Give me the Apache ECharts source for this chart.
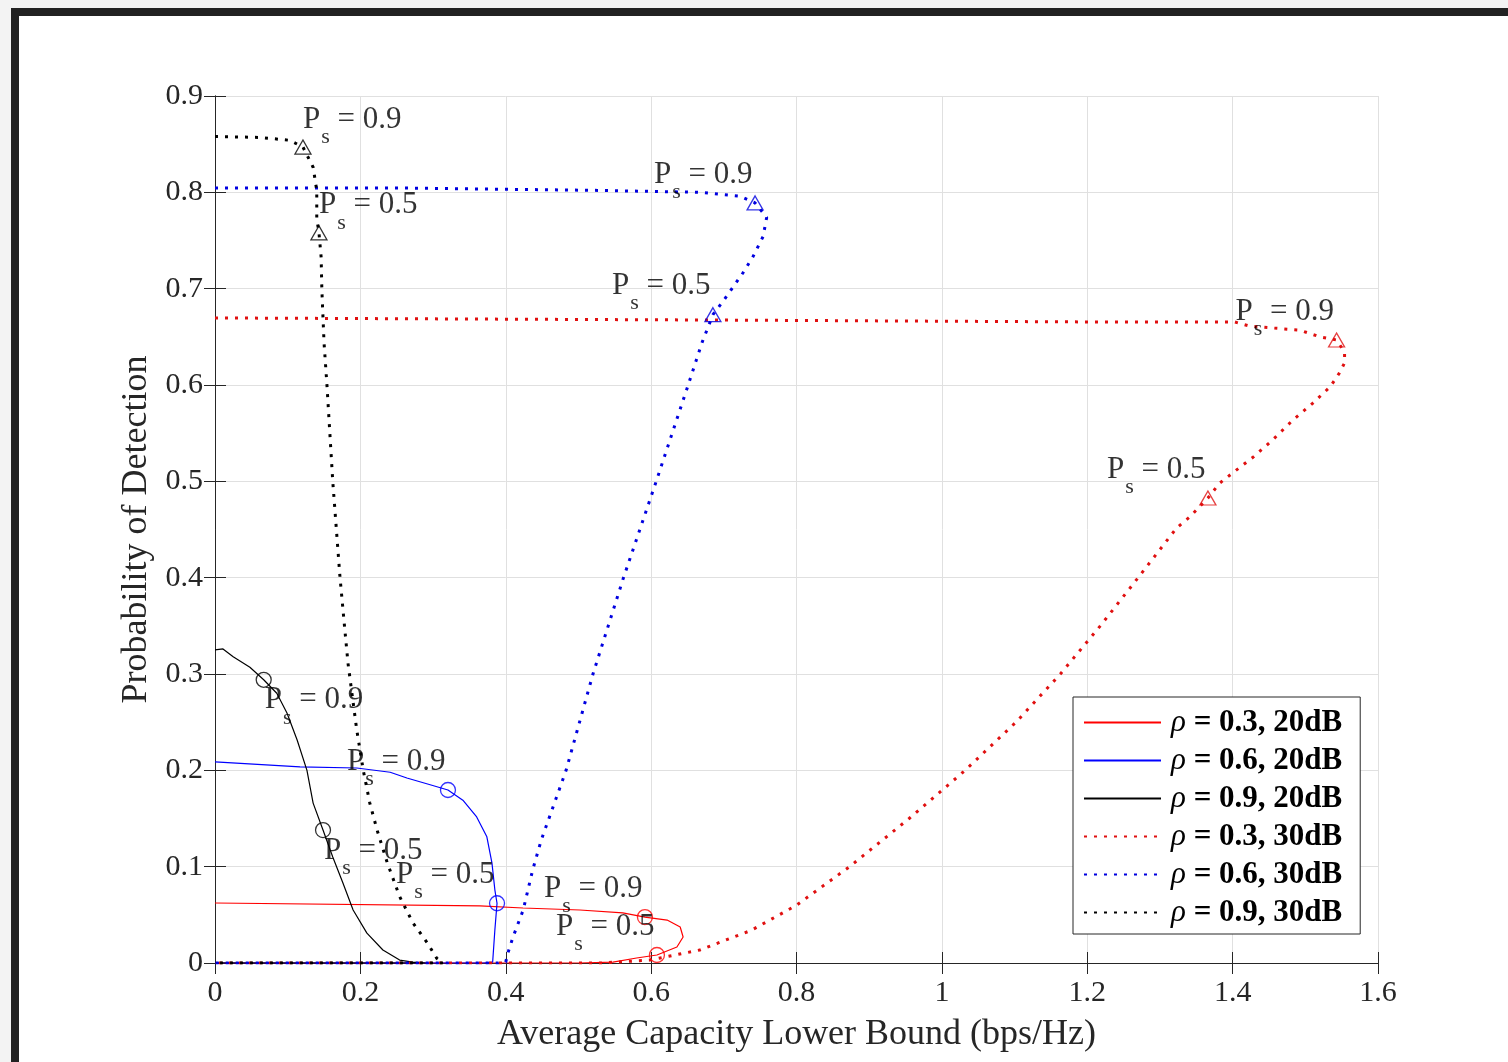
<!DOCTYPE html>
<html>
<head>
<meta charset="utf-8">
<script src="https://cdn.jsdelivr.net/npm/echarts@6/dist/echarts.min.js"></script>
<style>
  html, body { margin: 0; padding: 0; background: #fff; }
  #chart { width: 1508px; height: 1062px; }
  .bar { position: absolute; pointer-events: none; }
</style>
</head>
<body>
<div id="chart"></div>
<div class="bar" style="left:0;top:0;width:1508px;height:8px;background:#f3f3f3"></div>
<div class="bar" style="left:0;top:0;width:11px;height:1062px;background:#f3f3f3"></div>
<div class="bar" style="left:11px;top:8px;width:1497px;height:8px;background:#222"></div>
<div class="bar" style="left:11px;top:8px;width:8px;height:1054px;background:#222"></div>
<script>
// curves: [capacity lower bound, probability of detection]
const red20 = [
  [0, 0.0623], [0.3645, 0.0592], [0.4237, 0.0571], [0.502, 0.055], [0.561, 0.052],
  [0.5915, 0.0477], [0.622, 0.0446], [0.640, 0.0374], [0.644, 0.027], [0.6355, 0.0166],
  [0.608, 0.0083], [0.580, 0.0052], [0.5475, 0.001], [0.5, 0], [0, 0]
];
const blue20 = [
  [0, 0.2087], [0.117, 0.2035], [0.195, 0.2024], [0.241, 0.198], [0.264, 0.192],
  [0.296, 0.185], [0.3205, 0.1796], [0.341, 0.169], [0.360, 0.1516], [0.374, 0.131],
  [0.381, 0.104], [0.385, 0.076], [0.388, 0.062], [0.385, 0.034], [0.382, 0.001],
  [0.37, 0], [0, 0]
];
const black20 = [
  [0, 0.325], [0.011, 0.326], [0.025, 0.318], [0.048, 0.307], [0.067, 0.294],
  [0.085, 0.280], [0.099, 0.2595], [0.113, 0.2315], [0.1265, 0.200], [0.135, 0.166],
  [0.1486, 0.138], [0.162, 0.110], [0.176, 0.083], [0.190, 0.055], [0.209, 0.031],
  [0.231, 0.0135], [0.254, 0.003], [0.272, 0.001], [0.29, 0], [0, 0]
];
const red30 = [
  [0, 0.6696], [0.667, 0.6675], [1.217, 0.6654], [1.403, 0.6654], [1.424, 0.661],
  [1.492, 0.657], [1.520, 0.650], [1.543, 0.6467], [1.554, 0.634], [1.554, 0.623],
  [1.547, 0.6125], [1.534, 0.598], [1.510, 0.581], [1.483, 0.5637], [1.455, 0.543],
  [1.428, 0.525], [1.400, 0.5087], [1.382, 0.498], [1.366, 0.4827], [1.341, 0.463],
  [1.323, 0.4516], [1.270, 0.400], [1.218, 0.350], [1.163, 0.300], [1.102, 0.250],
  [1.032, 0.200], [0.955, 0.150], [0.873, 0.100], [0.800, 0.060], [0.738, 0.034],
  [0.667, 0.0135], [0.598, 0.003], [0.530, 0], [0, 0]
];
const blue30 = [
  [0, 0.8045], [0.254, 0.8045], [0.530, 0.802], [0.667, 0.800], [0.722, 0.796],
  [0.743, 0.789], [0.759, 0.774], [0.754, 0.754], [0.740, 0.733], [0.726, 0.716],
  [0.713, 0.702], [0.699, 0.687], [0.685, 0.673], [0.670, 0.644], [0.651, 0.600],
  [0.607, 0.500], [0.562, 0.400], [0.520, 0.300], [0.483, 0.200], [0.449, 0.128],
  [0.437, 0.0965], [0.424, 0.055], [0.410, 0.027], [0.403, 0.0104], [0.400, 0.001],
  [0.39, 0], [0, 0]
];
const black30 = [
  [0, 0.858], [0.062, 0.857], [0.103, 0.854], [0.121, 0.847], [0.135, 0.826],
  [0.140, 0.802], [0.140, 0.773], [0.143, 0.758], [0.146, 0.733], [0.147, 0.699],
  [0.150, 0.644], [0.154, 0.600], [0.162, 0.500], [0.172, 0.400], [0.179, 0.343],
  [0.183, 0.311], [0.195, 0.242], [0.204, 0.200], [0.213, 0.166], [0.223, 0.138],
  [0.237, 0.104], [0.254, 0.069], [0.272, 0.042], [0.292, 0.021], [0.305, 0.005],
  [0.314, 0], [0, 0]
];

// marked points: [x, y, Ps]
const red20Marks = [[0.5915, 0.0477, 0.9], [0.608, 0.0083, 0.5]];
const blue20Marks = [[0.3205, 0.1796, 0.9], [0.388, 0.062, 0.5]];
const black20Marks = [[0.067, 0.294, 0.9], [0.1486, 0.138, 0.5]];
const red30Marks = [[1.543, 0.6467, 0.9], [1.366, 0.4827, 0.5]];
const blue30Marks = [[0.743, 0.789, 0.9], [0.685, 0.673, 0.5]];
const black30Marks = [[0.121, 0.847, 0.9], [0.143, 0.758, 0.5]];

const names = [
  "ρ = 0.3, 20dB", "ρ = 0.6, 20dB", "ρ = 0.9, 20dB",
  "ρ = 0.3, 30dB", "ρ = 0.6, 30dB", "ρ = 0.9, 30dB"
];

const serif = "Liberation Serif";
const myChart = echarts.init(document.getElementById("chart"));

function curve(name, data, color, dotted) {
  return {
    name: name,
    type: "line",
    data: data,
    symbol: "none",
    showSymbol: false,
    animation: false,
    lineStyle: dotted
      ? { color: color, width: 3, type: [3, 7], cap: "butt" }
      : { color: color, width: 1.2 },
    itemStyle: { color: color },
    z: dotted ? 3 : 2,
  };
}

function marks(data, color, symbol, offset) {
  return {
    name: "marks",
    type: "scatter",
    data: data,
    symbol: symbol,
    symbolSize: symbol === "triangle" ? [16, 14] : 15,
    animation: false,
    itemStyle: { color: "rgba(0,0,0,0)", borderColor: color, borderWidth: 1.3 },
    z: 5,
    label: {
      show: true,
      position: "inside",
      align: "left",
      verticalAlign: "middle",
      offset: offset,
      formatter(p) {
        return "{p|P}{s|s}{t| = " + p.value[2].toFixed(1) + "}";
      },
      rich: {
        p: { fontFamily: serif, fontSize: 31, color: "#000", lineHeight: 30, verticalAlign: "top" },
        s: { fontFamily: serif, fontSize: 22, color: "#000", lineHeight: 20, padding: [22, 0, 0, 1], verticalAlign: "top" },
        t: { fontFamily: serif, fontSize: 31, color: "#000", lineHeight: 30, verticalAlign: "top" },
      },
    },
  };
}

const left = [-101, -29];
const above = [0, -28];
const below = [1, 20];

const option = {
  backgroundColor: "#fff",
  animation: false,
  grid: { left: 215, top: 96, right: 130, bottom: 99, outerBoundsMode: "none" },
  legend: {
    data: names,
    orient: "vertical",
    left: 1073,
    top: 697,
    padding: [10, 18, 6, 10],
    itemWidth: 77,
    itemHeight: 14,
    itemGap: 7,
    backgroundColor: "#fff",
    borderColor: "#262626",
    borderWidth: 1,
    borderRadius: 0,
    itemStyle: { opacity: 0 },
    formatter(name) {
      return "{r|ρ}{b|" + name.slice(1) + "}";
    },
    textStyle: {
      rich: {
        r: { fontFamily: serif, fontSize: 31, fontStyle: "italic", color: "#000", lineHeight: 31, padding: [0, 0, 0, 5] },
        b: { fontFamily: serif, fontSize: 31, fontWeight: "bold", color: "#000", lineHeight: 31 },
      },
    },
  },
  xAxis: [
    {
      type: "value",
      min: 0,
      max: 1.6,
      interval: 0.2,
      position: "bottom",
      name: "Average Capacity Lower Bound (bps/Hz)",
      nameLocation: "middle",
      nameGap: 54,
      nameTextStyle: { fontFamily: serif, fontSize: 36, color: "#262626" },
      axisLine: { show: true, lineStyle: { color: "#262626", width: 1 } },
      axisTick: { show: true, inside: true, length: 11, lineStyle: { color: "#262626" } },
      axisLabel: { fontFamily: serif, fontSize: 30, color: "#262626", margin: 15 },
      splitLine: { show: true, lineStyle: { color: "#e0e0e0", width: 1 } },
    },
    {
      type: "value",
      min: 0,
      max: 1.6,
      interval: 0.2,
      position: "top",
      axisLine: { show: true, lineStyle: { color: "#262626", width: 1 } },
      axisTick: { show: true, inside: true, length: 11, lineStyle: { color: "#262626" } },
      axisLabel: { show: false },
      splitLine: { show: false },
    },
  ],
  yAxis: [
    {
      type: "value",
      min: 0,
      max: 0.9,
      interval: 0.1,
      position: "left",
      name: "Probability of Detection",
      nameLocation: "middle",
      nameGap: 60,
      nameTextStyle: { fontFamily: serif, fontSize: 36, color: "#262626" },
      axisLine: { show: true, lineStyle: { color: "#262626", width: 1 } },
      axisTick: { show: true, inside: true, length: 11, lineStyle: { color: "#262626" } },
      axisLabel: { fontFamily: serif, fontSize: 30, color: "#262626", margin: 12 },
      splitLine: { show: true, lineStyle: { color: "#e0e0e0", width: 1 } },
    },
    {
      type: "value",
      min: 0,
      max: 0.9,
      interval: 0.1,
      position: "right",
      axisLine: { show: true, lineStyle: { color: "#262626", width: 1 } },
      axisTick: { show: true, inside: true, length: 11, lineStyle: { color: "#262626" } },
      axisLabel: { show: false },
      splitLine: { show: false },
    },
  ],
  series: [
    curve(names[0], red20, "#ff0000", false),
    curve(names[1], blue20, "#0000ff", false),
    curve(names[2], black20, "#000000", false),
    curve(names[3], red30, "#e01010", true),
    curve(names[4], blue30, "#0000e0", true),
    curve(names[5], black30, "#000000", true),
    marks(red20Marks, "#ff0000", "circle", left),
    marks(blue20Marks, "#0000ff", "circle", left),
    marks(black20Marks, "#000000", "circle", below),
    marks(red30Marks, "#e01010", "triangle", left),
    marks(blue30Marks, "#0000e0", "triangle", left),
    marks(black30Marks, "#000000", "triangle", above),
  ],
};

myChart.setOption(option);

window.onresize = function () {
  myChart.resize();
};
</script>
</body>
</html>
